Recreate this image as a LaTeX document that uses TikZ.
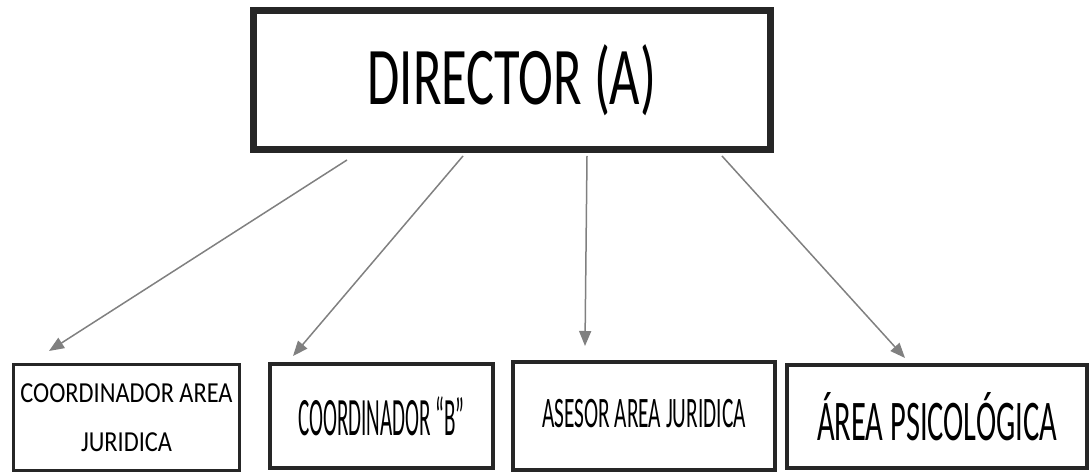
\documentclass[tikz,border=0pt]{standalone}
\usepackage{fontspec}
\setmainfont{Carlito}
\usepackage{graphicx}
\usetikzlibrary{arrows.meta}

\begin{document}
\begin{tikzpicture}[x=1pt,y=1pt,
  box/.style={draw=black!85, fill=white, inner sep=0pt, line width=4pt},
  link/.style={draw=gray, line width=1.5pt, -{Triangle[length=15pt,width=12pt]}}]
\useasboundingbox (0,0) rectangle (1090,473);
% Organigrama: director arriba, cuatro areas abajo
\node[box, line width=7pt, minimum width=517pt, minimum height=139pt,
  font=\fontsize{82}{90}\selectfont] (director) at (512,393) {\scalebox{0.64}[1]{DIRECTOR (A)}};
\node[box, line width=3pt, minimum width=226pt, minimum height=106pt, align=center,
  font=\fontsize{29}{49}\selectfont] (coordjur) at (126.5,55.5)
  {\scalebox{0.84}[1]{COORDINADOR AREA}\\ \scalebox{0.84}[1]{JURIDICA}};
\node[box, minimum width=223pt, minimum height=104pt,
  font=\fontsize{54}{60}\selectfont] (coordb) at (381.5,57) {\scalebox{0.39}[1]{COORDINADOR “B”}};
\node[box, minimum width=262pt, minimum height=108pt,
  font=\fontsize{43.5}{50}\selectfont] (asesor) at (644,57) {\raisebox{5pt}{\scalebox{0.49}[1]{ASESOR AREA JURIDICA}}};
\node[box, minimum width=300pt, minimum height=103pt,
  font=\fontsize{57.5}{64}\selectfont] (psico) at (937,56.5) {\scalebox{0.53}[1]{ÁREA PSICOLÓGICA}};
% Flechas
\draw[link] ([shift={(-165,-7)}]director.south) -- ([shift={(37,12)}]coordjur.north west);
\draw[link] ([shift={(-49,-3)}]director.south) -- ([shift={(25,6)}]coordb.north west);
\draw[link] ([shift={(75,-3)}]director.south) -- ([shift={(74,14)}]asesor.north west);
\draw[link] ([shift={(210,-3)}]director.south) -- ([shift={(120,5)}]psico.north west);
\end{tikzpicture}
\end{document}
